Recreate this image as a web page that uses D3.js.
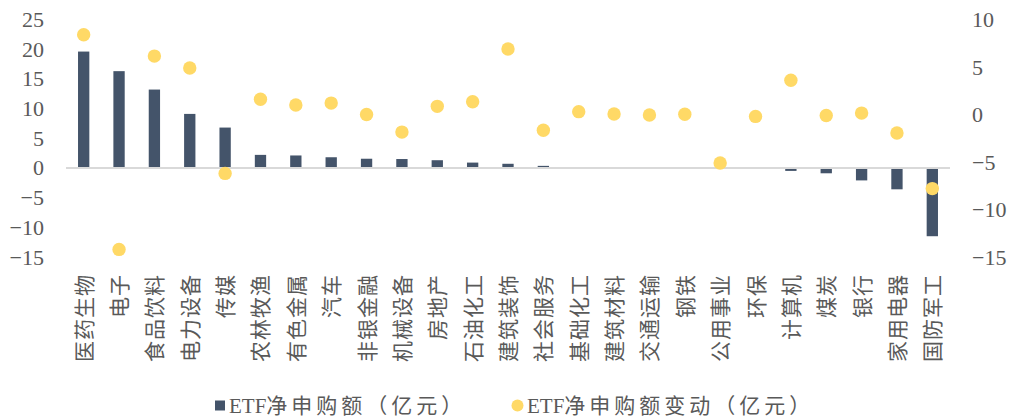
<!DOCTYPE html>
<html>
<head>
<meta charset="utf-8">
<script src="https://cdn.jsdelivr.net/npm/d3@7/dist/d3.min.js"></script>
<style>
  html, body { margin: 0; padding: 0; background: #fff; }
  svg { display: block; }
  text { fill: #595959; }
</style>
</head>
<body>
<svg id="chart" width="1013" height="419"></svg>
<script>
// Industry categories
const categories = ["医药生物","电子","食品饮料","电力设备","传媒","农林牧渔","有色金属","汽车","非银金融","机械设备",
  "房地产","石油化工","建筑装饰","社会服务","基础化工","建筑材料","交通运输","钢铁","公用事业","环保",
  "计算机","煤炭","银行","家用电器","国防军工"];

// ETF net subscription (100M CNY), left axis
const netSubscription = [19.6, 16.3, 13.2, 9.1, 6.8, 2.2, 2.1, 1.8, 1.55, 1.5,
  1.3, 0.9, 0.7, 0.35, 0.15, 0.05, 0.03, -0.03, -0.05, -0.1,
  -0.5, -0.9, -2.1, -3.6, -11.5];

// Change in ETF net subscription (100M CNY), right axis
const netSubscriptionChange = [8.4, -14.2, 6.15, 4.9, -6.2, 1.6, 1.0, 1.2, 0.0, -1.85,
  0.86, 1.35, 6.9, -1.66, 0.3, 0.05, -0.05, 0.02, -5.1, -0.2,
  3.6, -0.1, 0.15, -1.95, -7.8];

const leftTicks = [25, 20, 15, 10, 5, 0, -5, -10, -15];
const rightTicks = [10, 5, 0, -5, -10, -15];

// Legend entries: Latin prefix and CJK remainder
const seriesPrefix = ["ETF", "ETF"];
const seriesSuffix = ["净申购额（亿元）", "净申购额变动（亿元）"];

const barColor = "#44546A";
const dotColor = "#FFD966";
const fontFamily = "'Liberation Serif', 'Noto Sans CJK SC', serif";

const svg = d3.select("#chart");

const plot = { left: 66, right: 950, top: 19.5, bottom: 257 };

const x = d3.scaleBand()
  .domain(categories)
  .range([plot.left, plot.right])
  .paddingInner(0.68)
  .paddingOuter(0.34);

const yLeft = d3.scaleLinear().domain([-15, 25]).range([plot.bottom, plot.top]);
const yRight = d3.scaleLinear().domain([-15, 10]).range([plot.bottom, plot.top]);

// Left axis labels
const axisL = svg.append("g")
  .attr("transform", `translate(${plot.left},0)`)
  .call(d3.axisLeft(yLeft).tickValues(leftTicks).tickSize(0).tickPadding(22).tickFormat(d3.format("d")));
axisL.select(".domain").remove();
axisL.selectAll("text")
  .style("font-family", fontFamily).style("font-size", "22px").style("fill", "#595959");

// Right axis labels
const axisR = svg.append("g")
  .attr("transform", `translate(${plot.right},0)`)
  .call(d3.axisRight(yRight).tickValues(rightTicks).tickSize(0).tickPadding(22).tickFormat(d3.format("d")));
axisR.select(".domain").remove();
axisR.selectAll("text")
  .style("font-family", fontFamily).style("font-size", "22px").style("fill", "#595959");

// Bars
svg.append("g").selectAll("rect")
  .data(categories)
  .join("rect")
  .attr("x", d => x(d))
  .attr("width", x.bandwidth())
  .attr("y", (d, i) => yLeft(Math.max(0, netSubscription[i])))
  .attr("height", (d, i) => Math.abs(yLeft(netSubscription[i]) - yLeft(0)))
  .attr("fill", barColor);

// Zero baseline
svg.append("line")
  .attr("x1", plot.left).attr("x2", plot.right)
  .attr("y1", yLeft(0)).attr("y2", yLeft(0))
  .attr("stroke", "#d9d9d9").attr("stroke-width", 2);

// Change markers
svg.append("g").selectAll("circle")
  .data(categories)
  .join("circle")
  .attr("cx", d => x(d) + x.bandwidth() / 2)
  .attr("cy", (d, i) => yRight(netSubscriptionChange[i]))
  .attr("r", 6.7)
  .attr("fill", dotColor);

// Category labels, rotated to read bottom-to-top
svg.append("g").selectAll("text")
  .data(categories)
  .join("text")
  .attr("transform", d => `translate(${x(d) + x.bandwidth() / 2},274) rotate(-90)`)
  .attr("text-anchor", "end")
  .attr("dy", "0.38em")
  .style("font-family", fontFamily)
  .style("font-size", "21px")
  .style("letter-spacing", "1px")
  .text(d => d);

// Legend
const legend = svg.append("g").style("font-family", fontFamily).style("font-size", "21px");
legend.append("rect").attr("x", 215).attr("y", 400.5).attr("width", 10).attr("height", 10).attr("fill", barColor);
legend.append("circle").attr("cx", 517.5).attr("cy", 405.5).attr("r", 6).attr("fill", dotColor);
[229, 527].forEach((lx, i) => {
  const t = legend.append("text").attr("x", lx).attr("y", 406).attr("dy", "0.35em");
  t.append("tspan").text(seriesPrefix[i]);
  t.append("tspan").style("letter-spacing", "4px").text(seriesSuffix[i]);
});
</script>
</body>
</html>
